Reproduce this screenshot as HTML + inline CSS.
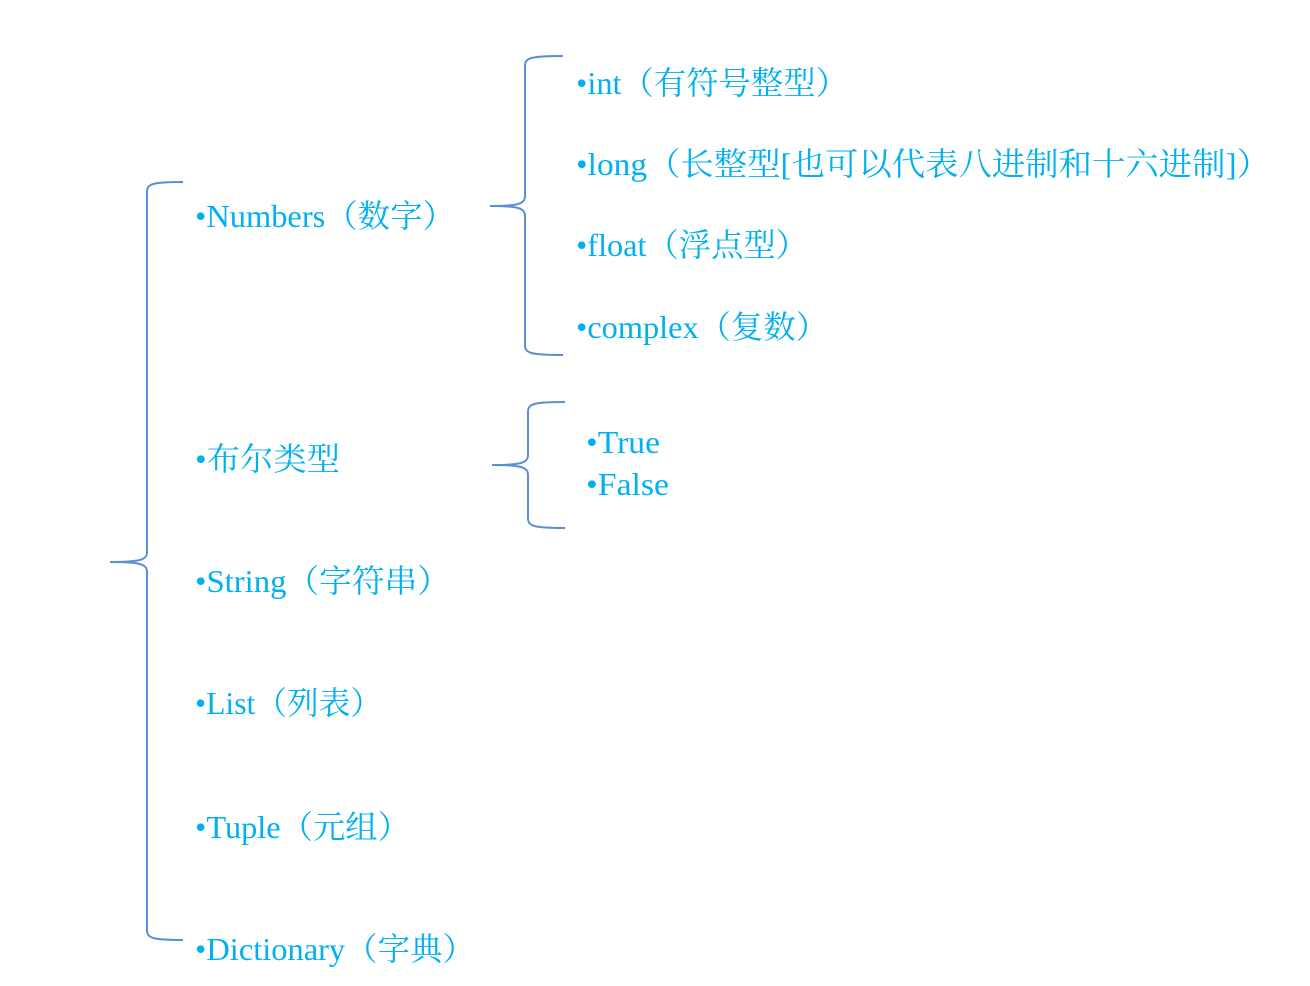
<!DOCTYPE html>
<html><head><meta charset="utf-8"><style>
html,body{margin:0;padding:0;background:#fff;width:1310px;height:986px;overflow:hidden}
svg text{font-family:"Liberation Serif","Noto Serif CJK SC","Noto Sans CJK SC",serif;font-size:32px;fill:#00b0f0}
</style></head><body>
<svg width="1310" height="986" viewBox="0 0 1310 986" xmlns="http://www.w3.org/2000/svg">
<g fill="none" stroke="#5b8fd4" stroke-width="2">
<path d="M183 182 C152 182 147 184 147 192 L147 552 C147 560 140 562 110 562 C140 562 147 564 147 572 L147 930 C147 938 152 940 183 940"/>
<path d="M563 56 C530 56 525 58 525 66 L525 196 C525 204 518 206 490 206 C518 206 525 208 525 216 L525 345 C525 353 530 355 563 355"/>
<path d="M565 402 C533 402 528 404 528 412 L528 455 C528 463 521 465 492 465 C521 465 528 467 528 475 L528 518 C528 526 533 528 565 528"/>
</g>
<g lengthAdjust="spacingAndGlyphs">
<text x="195" y="227" textLength="260" lengthAdjust="spacingAndGlyphs">•Numbers（数字）</text>
<text x="195" y="470" textLength="145" lengthAdjust="spacingAndGlyphs">•布尔类型</text>
<text x="195" y="592" textLength="255" lengthAdjust="spacingAndGlyphs">•String（字符串）</text>
<text x="195" y="714" textLength="187" lengthAdjust="spacingAndGlyphs">•List（列表）</text>
<text x="195" y="838" textLength="215" lengthAdjust="spacingAndGlyphs">•Tuple（元组）</text>
<text x="195" y="960" textLength="280" lengthAdjust="spacingAndGlyphs">•Dictionary（字典）</text>
<text x="576" y="94" textLength="272" lengthAdjust="spacingAndGlyphs">•int（有符号整型）</text>
<text x="576" y="175" textLength="694" lengthAdjust="spacingAndGlyphs">•long（长整型[也可以代表八进制和十六进制]）</text>
<text x="576" y="256" textLength="232" lengthAdjust="spacingAndGlyphs">•float（浮点型）</text>
<text x="576" y="338" textLength="252" lengthAdjust="spacingAndGlyphs">•complex（复数）</text>
<text x="586" y="453" textLength="74" lengthAdjust="spacingAndGlyphs">•True</text>
<text x="586" y="495" textLength="83" lengthAdjust="spacingAndGlyphs">•False</text>
</g>
</svg>
</body></html>
